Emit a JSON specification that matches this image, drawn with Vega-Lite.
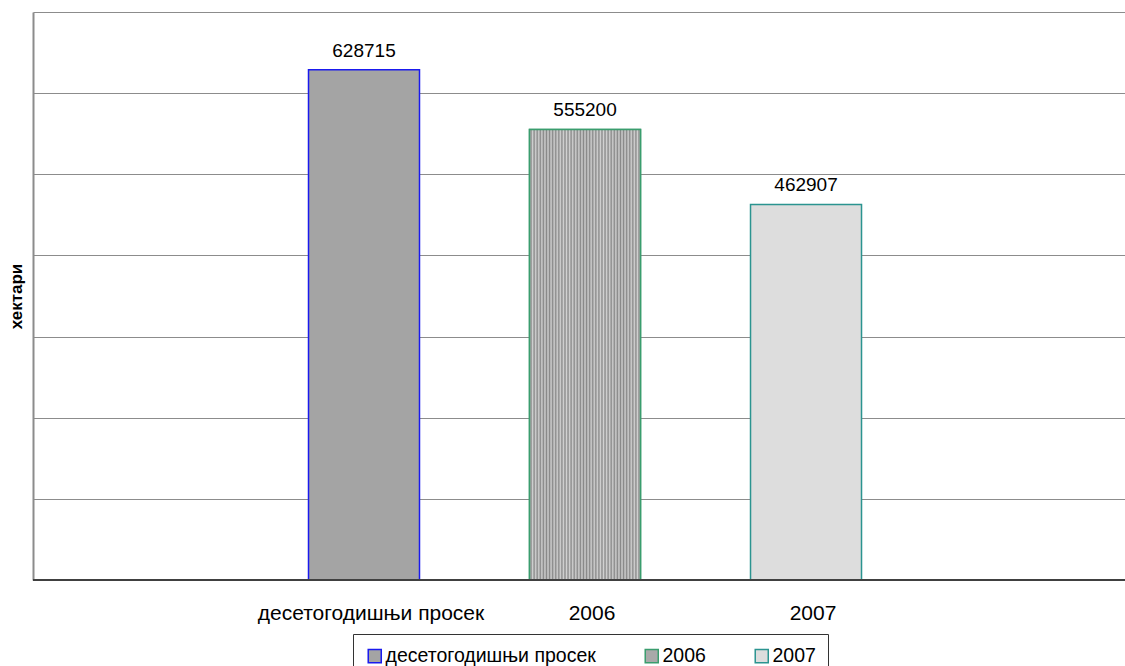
{
  "$schema": "https://vega.github.io/schema/vega-lite/v6.json",
  "width": 1092,
  "height": 568,
  "autosize": {"type": "none"},
  "padding": {"left": 33, "top": 12, "right": 0, "bottom": 86},
  "background": "white",
  "config": {"font": "Liberation Sans", "view": {"stroke": null}},
  "data": {
    "values": [
      {"category": "десетогодишњи просек", "value": 628715},
      {"category": "2006", "value": 555200},
      {"category": "2007", "value": 462907}
    ]
  },
  "encoding": {
    "x": {
      "field": "category",
      "type": "nominal",
      "sort": null,
      "scale": {"paddingInner": 0.059, "paddingOuter": 1, "align": 0.5136},
      "axis": {
        "title": null,
        "ticks": false,
        "domain": false,
        "labelFontSize": 21,
        "labelPadding": 22,
        "labelOffset": 7,
        "labelAngle": 0,
        "labelColor": "black",
        "labelLimit": 400
      }
    },
    "y": {
      "field": "value",
      "type": "quantitative",
      "scale": {"domain": [0, 700000], "nice": false},
      "axis": {
        "title": "хектари",
        "labels": false,
        "ticks": false,
        "values": [0, 100000, 200000, 300000, 400000, 500000, 600000, 700000],
        "grid": true,
        "gridColor": "#8c8c8c",
        "gridWidth": 1.2,
        "domainColor": "#8c8c8c",
        "domainWidth": 2,
        "titleFontSize": 17,
        "titleFontWeight": "bold",
        "titlePadding": 8,
        "titleColor": "black"
      }
    }
  },
  "layer": [
    {
      "mark": {"type": "bar", "width": 111, "strokeWidth": 1.5, "fillOpacity": 1},
      "encoding": {
        "fill": {
          "field": "category",
          "type": "nominal",
          "sort": null,
          "scale": {"range": ["#a4a4a4", "#a9a9a9", "#dddddd"]},
          "legend": {
            "title": null,
            "orient": "none",
            "legendX": 320,
            "legendY": 622,
            "direction": "horizontal",
            "strokeColor": "#333333",
            "fillColor": "white",
            "padding": 12,
            "labelFontSize": 19.5,
            "labelColor": "black",
            "labelLimit": 400,
            "labelOffset": 1,
            "symbolType": "square",
            "symbolSize": 170,
            "symbolStrokeWidth": 1.5,
            "symbolOpacity": 1,
            "columnPadding": 46
          }
        },
        "stroke": {
          "field": "category",
          "type": "nominal",
          "sort": null,
          "scale": {"range": ["#1a1aee", "#3a9d6e", "#2b9490"]},
          "legend": {
            "title": null,
            "orient": "none",
            "legendX": 320,
            "legendY": 622,
            "direction": "horizontal",
            "strokeColor": "#333333",
            "fillColor": "white",
            "padding": 12,
            "labelFontSize": 19.5,
            "labelColor": "black",
            "labelLimit": 400,
            "labelOffset": 1,
            "symbolType": "square",
            "symbolSize": 170,
            "symbolStrokeWidth": 1.5,
            "symbolOpacity": 1,
            "columnPadding": 46
          }
        }
      }
    },
    {
      "transform": [{"filter": "datum.category === '2006'"}],
      "mark": {
        "type": "bar",
        "width": 111,
        "strokeWidth": 1.5,
        "stroke": "#3a9d6e",
        "fillOpacity": 1,
        "fill": {"gradient": "linear", "x1": 0, "y1": 0, "x2": 1, "y2": 0, "stops": [
          {"offset": 0, "color": "#d2d2d2"}, {"offset": 0.0139, "color": "#888888"},
          {"offset": 0.0278, "color": "#d2d2d2"}, {"offset": 0.0417, "color": "#888888"},
          {"offset": 0.0556, "color": "#d2d2d2"}, {"offset": 0.0694, "color": "#888888"},
          {"offset": 0.0833, "color": "#d2d2d2"}, {"offset": 0.0972, "color": "#888888"},
          {"offset": 0.1111, "color": "#d2d2d2"}, {"offset": 0.125, "color": "#888888"},
          {"offset": 0.1389, "color": "#d2d2d2"}, {"offset": 0.1528, "color": "#888888"},
          {"offset": 0.1667, "color": "#d2d2d2"}, {"offset": 0.1806, "color": "#888888"},
          {"offset": 0.1944, "color": "#d2d2d2"}, {"offset": 0.2083, "color": "#888888"},
          {"offset": 0.2222, "color": "#d2d2d2"}, {"offset": 0.2361, "color": "#888888"},
          {"offset": 0.25, "color": "#d2d2d2"}, {"offset": 0.2639, "color": "#888888"},
          {"offset": 0.2778, "color": "#d2d2d2"}, {"offset": 0.2917, "color": "#888888"},
          {"offset": 0.3056, "color": "#d2d2d2"}, {"offset": 0.3194, "color": "#888888"},
          {"offset": 0.3333, "color": "#d2d2d2"}, {"offset": 0.3472, "color": "#888888"},
          {"offset": 0.3611, "color": "#d2d2d2"}, {"offset": 0.375, "color": "#888888"},
          {"offset": 0.3889, "color": "#d2d2d2"}, {"offset": 0.4028, "color": "#888888"},
          {"offset": 0.4167, "color": "#d2d2d2"}, {"offset": 0.4306, "color": "#888888"},
          {"offset": 0.4444, "color": "#d2d2d2"}, {"offset": 0.4583, "color": "#888888"},
          {"offset": 0.4722, "color": "#d2d2d2"}, {"offset": 0.4861, "color": "#888888"},
          {"offset": 0.5, "color": "#d2d2d2"}, {"offset": 0.5139, "color": "#888888"},
          {"offset": 0.5278, "color": "#d2d2d2"}, {"offset": 0.5417, "color": "#888888"},
          {"offset": 0.5556, "color": "#d2d2d2"}, {"offset": 0.5694, "color": "#888888"},
          {"offset": 0.5833, "color": "#d2d2d2"}, {"offset": 0.5972, "color": "#888888"},
          {"offset": 0.6111, "color": "#d2d2d2"}, {"offset": 0.625, "color": "#888888"},
          {"offset": 0.6389, "color": "#d2d2d2"}, {"offset": 0.6528, "color": "#888888"},
          {"offset": 0.6667, "color": "#d2d2d2"}, {"offset": 0.6806, "color": "#888888"},
          {"offset": 0.6944, "color": "#d2d2d2"}, {"offset": 0.7083, "color": "#888888"},
          {"offset": 0.7222, "color": "#d2d2d2"}, {"offset": 0.7361, "color": "#888888"},
          {"offset": 0.75, "color": "#d2d2d2"}, {"offset": 0.7639, "color": "#888888"},
          {"offset": 0.7778, "color": "#d2d2d2"}, {"offset": 0.7917, "color": "#888888"},
          {"offset": 0.8056, "color": "#d2d2d2"}, {"offset": 0.8194, "color": "#888888"},
          {"offset": 0.8333, "color": "#d2d2d2"}, {"offset": 0.8472, "color": "#888888"},
          {"offset": 0.8611, "color": "#d2d2d2"}, {"offset": 0.875, "color": "#888888"},
          {"offset": 0.8889, "color": "#d2d2d2"}, {"offset": 0.9028, "color": "#888888"},
          {"offset": 0.9167, "color": "#d2d2d2"}, {"offset": 0.9306, "color": "#888888"},
          {"offset": 0.9444, "color": "#d2d2d2"}, {"offset": 0.9583, "color": "#888888"},
          {"offset": 0.9722, "color": "#d2d2d2"}, {"offset": 0.9861, "color": "#888888"},
          {"offset": 1, "color": "#d2d2d2"}
        ]}
      },
      "encoding": {}
    },
    {
      "mark": {"type": "text", "baseline": "alphabetic", "dy": -13, "fontSize": 19, "color": "black"},
      "encoding": {
        "text": {"field": "value", "type": "quantitative", "format": "d"}
      }
    },
    {
      "mark": {"type": "rule", "color": "#404040", "strokeWidth": 2},
      "encoding": {"y": {"datum": 0}, "x": null}
    }
  ]
}
